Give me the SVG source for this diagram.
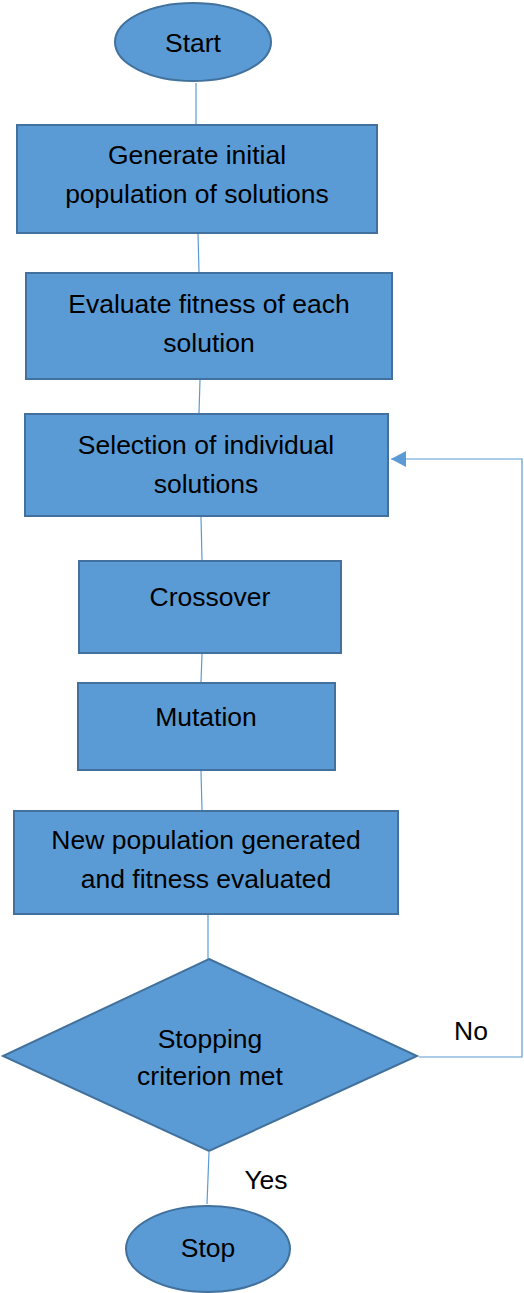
<svg xmlns="http://www.w3.org/2000/svg" width="524" height="1293" viewBox="0 0 524 1293">
<defs>
<style>
.n{fill:#5B9BD5;stroke:#41719C;stroke-width:2}
.t{font-family:"Liberation Sans",Arial,sans-serif;font-size:26.5px;fill:#000;text-anchor:middle}
.c{fill:none;stroke:#5B9BD5;stroke-width:1.2}
</style>
<marker id="ah" markerWidth="16" markerHeight="16" refX="15" refY="8" orient="auto" markerUnits="userSpaceOnUse">
<path d="M0,0 L15,8 L0,16 Z" fill="#5B9BD5"/>
</marker>
</defs>
<rect width="524" height="1293" fill="#fff"/>
<g id="connectors">
<line class="c" x1="196" y1="83" x2="196" y2="124"/>
<line class="c" x1="198" y1="234" x2="199" y2="272"/>
<line class="c" x1="200" y1="380" x2="199" y2="413"/>
<line class="c" x1="201" y1="517" x2="202" y2="560"/>
<line class="c" x1="202" y1="654" x2="201" y2="682"/>
<line class="c" x1="201" y1="771" x2="202" y2="810"/>
<line class="c" x1="208" y1="915" x2="208" y2="959"/>
<line class="c" x1="209" y1="1152" x2="207" y2="1204"/>
<path class="c" d="M419,1057 H522 V459 H391" marker-end="url(#ah)"/>
<text class="t" x="471" y="1040">No</text>
<text class="t" x="266" y="1189">Yes</text>
</g>
<g id="start">
<ellipse class="n" cx="193" cy="42" rx="78" ry="39"/>
<text class="t" x="193" y="52">Start</text>
</g>
<g id="generate">
<rect class="n" x="17" y="125" width="360" height="108"/>
<text class="t" x="197" y="164">Generate initial</text>
<text class="t" x="197" y="203">population of solutions</text>
</g>
<g id="evaluate">
<rect class="n" x="26" y="273" width="366" height="106"/>
<text class="t" x="209" y="313">Evaluate fitness of each</text>
<text class="t" x="209" y="352">solution</text>
</g>
<g id="selection">
<rect class="n" x="25" y="414" width="363" height="102"/>
<text class="t" x="206" y="454">Selection of individual</text>
<text class="t" x="206" y="493">solutions</text>
</g>
<g id="crossover">
<rect class="n" x="79" y="561" width="262" height="92"/>
<text class="t" x="210" y="606">Crossover</text>
</g>
<g id="mutation">
<rect class="n" x="78" y="683" width="257" height="87"/>
<text class="t" x="206" y="726">Mutation</text>
</g>
<g id="newpop">
<rect class="n" x="14" y="811" width="384" height="103"/>
<text class="t" x="206" y="849">New population generated</text>
<text class="t" x="206" y="888">and fitness evaluated</text>
</g>
<g id="decision">
<polygon class="n" points="209,959 417,1056 209,1151 3,1056"/>
<text class="t" x="210" y="1048">Stopping</text>
<text class="t" x="210" y="1085">criterion met</text>
</g>
<g id="stop">
<ellipse class="n" cx="208" cy="1249" rx="82" ry="43"/>
<text class="t" x="208" y="1257">Stop</text>
</g>
</svg>
